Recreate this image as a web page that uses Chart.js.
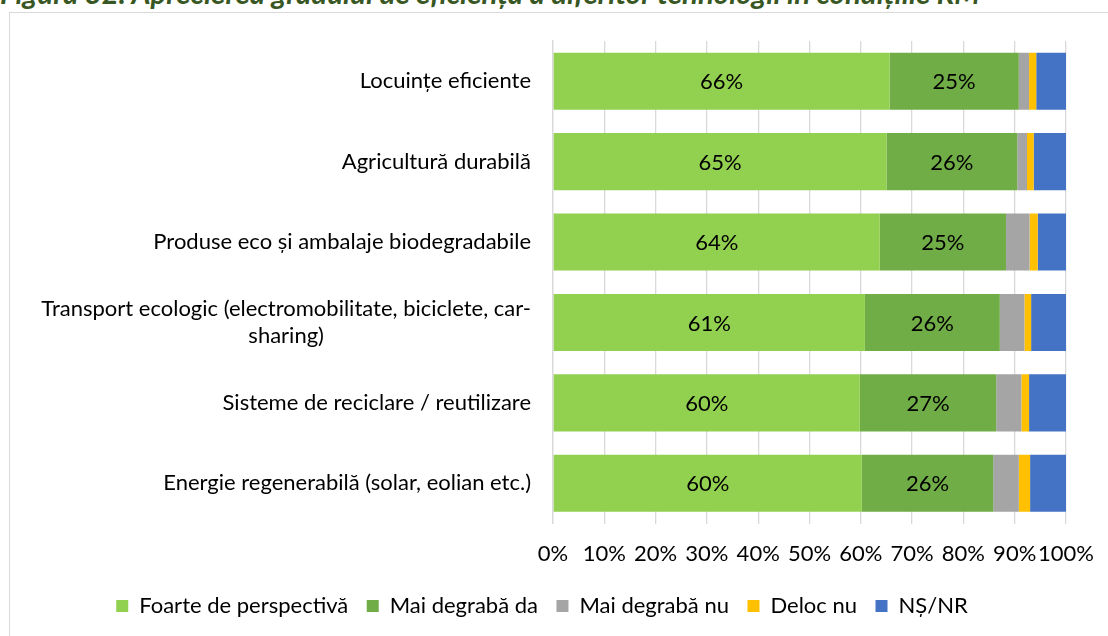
<!DOCTYPE html>
<html><head><meta charset="utf-8">
<script src="https://cdn.jsdelivr.net/npm/chart.js@4"></script>
<style>
html,body{margin:0;padding:0;background:#fff;width:1108px;height:636px;overflow:hidden;}
#frame{position:absolute;left:9px;top:12px;width:1200px;height:700px;border:1.5px solid #d9d9d9;box-sizing:border-box;}
#title{position:absolute;left:0;top:-19px;white-space:nowrap;font-family:Lato;font-weight:bold;font-style:italic;font-size:21px;line-height:24px;color:#385723;}
#wrap{position:absolute;left:0;top:0;width:1108px;height:636px;}
</style></head><body>
<div id="title">Figura 32. Aprecierea gradului de eficiență a diferitor tehnologii în condițiile RM</div>
<div id="frame"></div>
<div id="wrap"><canvas id="c" width="1108" height="636"></canvas></div>
<script>
const categories = [
  'Locuințe eficiente',
  'Agricultură durabilă',
  'Produse eco și ambalaje biodegradabile',
  ['Transport ecologic (electromobilitate, biciclete, car-', 'sharing)'],
  'Sisteme de reciclare / reutilizare',
  'Energie regenerabilă (solar, eolian etc.)'
];
const seriesNames = ['Foarte de perspectivă', 'Mai degrabă da', 'Mai degrabă nu', 'Deloc nu', 'NȘ/NR'];
const foarteDePerspectiva = [65.6, 65.0, 63.7, 60.8, 59.8, 60.2];
const maiDegrabaDa = [25.2, 25.5, 24.6, 26.3, 26.6, 25.6];
const maiDegrabaNu = [2.0, 1.9, 4.6, 4.8, 4.9, 5.0];
const delocNu = [1.4, 1.3, 1.6, 1.3, 1.5, 2.2];
const nsNr = [5.8, 6.3, 5.5, 6.8, 7.2, 7.0];
const xTicks = [0, 10, 20, 30, 40, 50, 60, 70, 80, 90, 100];
const colors = ['#92D050', '#70AD47', '#A5A5A5', '#FFC000', '#4472C4'];
const labelledSeries = [0, 1];

// fit title width
(function(){
  const t = document.getElementById('title');
  const w = t.getBoundingClientRect().width;
  const fs = 21 * 980 / w;
  t.style.fontSize = fs.toFixed(2) + 'px';
})();

const FS = 22;
const FONT = {family: 'Lato', size: FS};

const barLabels = {
  id: 'barLabels',
  afterDatasetsDraw(chart) {
    const ctx = chart.ctx;
    ctx.save();
    ctx.font = FS + 'px Lato';
    ctx.fillStyle = '#000';
    ctx.textAlign = 'center';
    ctx.textBaseline = 'middle';
    labelledSeries.forEach(di => {
      const meta = chart.getDatasetMeta(di);
      meta.data.forEach((el, i) => {
        const v = chart.data.datasets[di].data[i];
        const p = el.getProps(['x', 'y', 'base'], true);
        ctx.fillText(Math.round(v) + '%', (p.x + p.base) / 2, p.y + 1);
      });
    });
    ctx.restore();
  }
};

const centerMultiline = {
  id: 'centerMultiline',
  beforeDraw(chart) {
    const s = chart.scales.y;
    const items = s.getLabelItems();
    const ctx = chart.ctx;
    ctx.save();
    ctx.font = FS + 'px Lato';
    items.forEach(it => {
      if (Array.isArray(it.label) && it.label.length > 1 && it.options.textAlign === 'right') {
        const w = Math.max(...it.label.map(l => ctx.measureText(l).width));
        it.options.textAlign = 'center';
        it.options.translation = [it.options.translation[0] - w / 2, it.options.translation[1]];
      }
    });
    ctx.restore();
  }
};

const allSeries = [foarteDePerspectiva, maiDegrabaDa, maiDegrabaNu, delocNu, nsNr];

function start() {
  new Chart(document.getElementById('c'), {
    type: 'bar',
    data: {
      labels: categories,
      datasets: allSeries.map((d, i) => ({
        label: seriesNames[i],
        data: d,
        backgroundColor: colors[i],
        borderWidth: 0,
        categoryPercentage: 1,
        barPercentage: 0.71
      }))
    },
    options: {
      indexAxis: 'y',
      responsive: false,
      animation: false,
      devicePixelRatio: 1,
      layout: {padding: {left: 18, right: 42, top: 41, bottom: 9}},
      scales: {
        x: {
          stacked: true,
          min: 0, max: 100,
          afterBuildTicks: s => { s.ticks = xTicks.map(v => ({value: v})); },
          afterFit: s => { s.height = 53; s.paddingRight = 0; s.paddingLeft = 0; },
          ticks: {callback: v => v + '%', font: FONT, color: '#000', padding: 17, maxRotation: 0, autoSkip: false},
          grid: {color: '#d9d9d9', lineWidth: 1.3, drawTicks: false},
          border: {display: false}
        },
        y: {
          stacked: true,
          afterFit: s => { s.width = 535; },
          ticks: {font: FONT, color: '#000', padding: 22, autoSkip: false},
          grid: {display: false, drawTicks: false},
          border: {display: true, color: '#d9d9d9', width: 1.3}
        }
      },
      plugins: {
        legend: {
          position: 'bottom',
          labels: {boxWidth: 12, boxHeight: 12, padding: 18.5, font: FONT, color: '#000'}
        },
        tooltip: {enabled: false}
      }
    },
    plugins: [barLabels, centerMultiline]
  });
}
if (document.fonts && document.fonts.load) {
  Promise.all([document.fonts.load(FS + 'px Lato'), document.fonts.load('bold italic 18px Lato')]).then(start, start);
} else start();
</script>
</body></html>
